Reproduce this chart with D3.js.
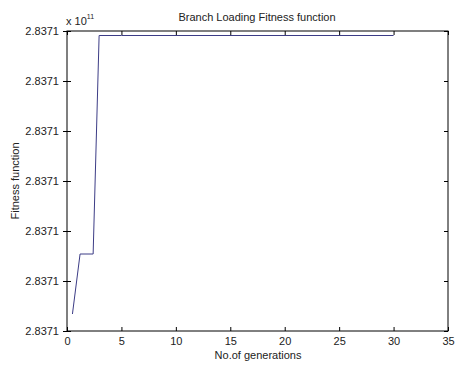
<!DOCTYPE html>
<html>
<head>
<meta charset="utf-8">
<title>Branch Loading Fitness function</title>
<script src="https://cdn.jsdelivr.net/npm/d3@7"></script>
<style>
  body { margin: 0; background: #fff; }
  text { font-family: Arial, "Liberation Sans", sans-serif; fill: #222; }
</style>
</head>
<body>
<div id="chart"></div>
<script>
    const width = 467, height = 369;
    const margin = { top: 31, right: 19, bottom: 38, left: 67 };

    // generations vs fitness (offset from 2.8371e11, in tick-step units)
    const generations = [0.5, 1.2, 2.4, 2.95, 5, 30];
    const fitness = [0.34, 1.54, 1.54, 5.91, 5.91, 5.91];
    const xTicks = [0, 5, 10, 15, 20, 25, 30, 35];
    const yTicks = [0, 1, 2, 3, 4, 5, 6];
    const yTickLabel = "2.8371";

    const data = generations.map((g, i) => ({ x: g, y: fitness[i] }));

    const svg = d3.select("#chart").append("svg")
        .attr("width", width)
        .attr("height", height);

    const x = d3.scaleLinear().domain([0, 35]).range([margin.left, width - margin.right]);
    const y = d3.scaleLinear().domain([0, 6]).range([height - margin.bottom, margin.top]);

    // box
    svg.append("rect")
        .attr("x", margin.left).attr("y", margin.top)
        .attr("width", width - margin.left - margin.right)
        .attr("height", height - margin.top - margin.bottom)
        .attr("fill", "none").attr("stroke", "#000").attr("stroke-width", 1);

    // bottom axis
    const gx = svg.append("g")
        .attr("transform", "translate(0," + (height - margin.bottom) + ")")
        .call(d3.axisBottom(x).tickValues(xTicks).tickSize(-4).tickPadding(6));
    gx.select(".domain").remove();
    gx.selectAll("text").attr("font-size", "11px").attr("fill", "#222");

    // top ticks
    svg.append("g")
        .attr("transform", "translate(0," + margin.top + ")")
        .call(d3.axisTop(x).tickValues(xTicks).tickSize(-4).tickFormat(""))
        .select(".domain").remove();

    // left axis
    const gy = svg.append("g")
        .attr("transform", "translate(" + margin.left + ",0)")
        .call(d3.axisLeft(y).tickValues(yTicks).tickSize(4).tickPadding(4).tickFormat(() => yTickLabel));
    gy.select(".domain").remove();
    gy.selectAll("line").attr("x1", -4).attr("x2", 4);
    gy.selectAll("text").attr("font-size", "11px").attr("fill", "#222");

    // right ticks
    svg.append("g")
        .attr("transform", "translate(" + (width - margin.right) + ",0)")
        .call(d3.axisRight(y).tickValues(yTicks).tickSize(-4).tickFormat(""))
        .select(".domain").remove();

    // line
    svg.append("path")
        .datum(data)
        .attr("fill", "none")
        .attr("stroke", "#3c3c86")
        .attr("stroke-width", 1)
        .attr("d", d3.line().x(d => x(d.x)).y(d => y(d.y)));

    // title and labels
    svg.append("text")
        .attr("x", 257).attr("y", 21)
        .attr("text-anchor", "middle").attr("font-size", "11px")
        .text("Branch Loading Fitness function");

    const ex = svg.append("text")
        .attr("x", margin.left - 1).attr("y", 25)
        .attr("font-size", "11px");
    ex.append("tspan").text("x 10");
    ex.append("tspan").attr("dy", -6).attr("font-size", "7px").text("11");

    svg.append("text")
        .attr("x", 258).attr("y", 359)
        .attr("text-anchor", "middle").attr("font-size", "11px")
        .text("No.of generations");

    svg.append("text")
        .attr("transform", "translate(19,181) rotate(-90)")
        .attr("text-anchor", "middle").attr("font-size", "11px")
        .text("Fitness function");
</script>
</body>
</html>
